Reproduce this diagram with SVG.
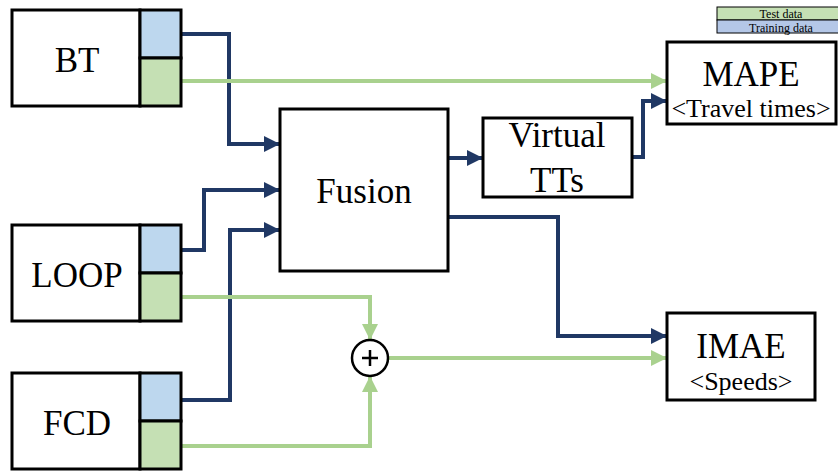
<svg xmlns="http://www.w3.org/2000/svg" width="838" height="474" viewBox="0 0 838 474">
<style>
.box{fill:#fff;stroke:#000;stroke-width:3}
.tr{fill:#BDD7EE;stroke:#000;stroke-width:3}
.te{fill:#C5E0B4;stroke:#000;stroke-width:3}
.t{font-family:"Liberation Serif","Times New Roman",serif;fill:#000;text-anchor:middle}
.big{font-size:35px}
.sm{font-size:26px}
.bl{fill:none;stroke:#203864;stroke-width:4;stroke-linejoin:miter}
.gr{fill:none;stroke:#A9D18E;stroke-width:4;stroke-linejoin:miter}
</style>
<defs>
<marker id="ab" markerUnits="userSpaceOnUse" markerWidth="16" markerHeight="16" refX="14" refY="7" orient="auto" viewBox="0 0 14 14"><path d="M0,0 L14,7 L0,14 z" fill="#203864"/></marker>
<marker id="ag" markerUnits="userSpaceOnUse" markerWidth="16" markerHeight="16" refX="14" refY="7" orient="auto" viewBox="0 0 14 14"><path d="M0,0 L14,7 L0,14 z" fill="#A9D18E"/></marker>
</defs>
<g id="legend">
<rect x="717" y="7" width="122" height="13" fill="#C5E0B4" stroke="#000" stroke-width="1"/>
<rect x="717" y="20" width="122" height="13" fill="#B4C7E7" stroke="#000" stroke-width="1"/>
<text class="t" x="781" y="17.5" font-size="12">Test data</text>
<text class="t" x="781" y="31.5" font-size="12">Training data</text>
</g>
<g id="connectors">
<path class="bl" d="M181,34 H229 V144 H280" marker-end="url(#ab)"/>
<path class="gr" d="M181,81 H667" marker-end="url(#ag)"/>
<path class="bl" d="M181,250 H204 V190 H280" marker-end="url(#ab)"/>
<path class="bl" d="M181,400 H230 V230 H280" marker-end="url(#ab)"/>
<path class="bl" d="M448,158 H483" marker-end="url(#ab)"/>
<path class="bl" d="M632,157 H643 V101 H667" marker-end="url(#ab)"/>
<path class="bl" d="M448,217 H558 V336 H667" marker-end="url(#ab)"/>
<path class="gr" d="M181,297 H370 V340" marker-end="url(#ag)"/>
<path class="gr" d="M181,446 H370 V376" marker-end="url(#ag)"/>
<path class="gr" d="M388,358 H667" marker-end="url(#ag)"/>
</g>
<g id="bt">
<rect class="box" x="12" y="10" width="128" height="96"/>
<rect class="tr" x="140" y="10" width="41" height="48"/>
<rect class="te" x="140" y="58" width="41" height="48"/>
<text class="t big" x="77" y="72">BT</text>
</g>
<g id="loop">
<rect class="box" x="12" y="225" width="128" height="96"/>
<rect class="tr" x="140" y="225" width="41" height="48"/>
<rect class="te" x="140" y="273" width="41" height="48"/>
<text class="t big" x="77" y="287">LOOP</text>
</g>
<g id="fcd">
<rect class="box" x="12" y="373" width="128" height="96"/>
<rect class="tr" x="140" y="373" width="41" height="48"/>
<rect class="te" x="140" y="421" width="41" height="48"/>
<text class="t big" x="77" y="435">FCD</text>
</g>
<g id="fusion">
<rect class="box" x="280" y="109" width="168" height="162"/>
<text class="t big" x="364" y="203">Fusion</text>
</g>
<g id="virtual">
<rect class="box" x="483" y="118" width="149" height="79"/>
<text class="t big" x="557" y="147">Virtual</text>
<text class="t big" x="557" y="192">TTs</text>
</g>
<g id="mape">
<rect class="box" x="667" y="42" width="169" height="82"/>
<text class="t big" x="751" y="86">MAPE</text>
<text class="t sm" x="751" y="117">&lt;Travel times&gt;</text>
</g>
<g id="imae">
<rect class="box" x="667" y="313" width="148" height="87"/>
<text class="t big" x="741" y="358">IMAE</text>
<text class="t sm" x="741" y="390">&lt;Speeds&gt;</text>
</g>
<g id="plus">
<circle cx="370" cy="358" r="18" fill="#fff" stroke="#000" stroke-width="2.5"/>
<path d="M362,358 H378 M370,350 V366" stroke="#000" stroke-width="2.5"/>
</g>
</svg>
